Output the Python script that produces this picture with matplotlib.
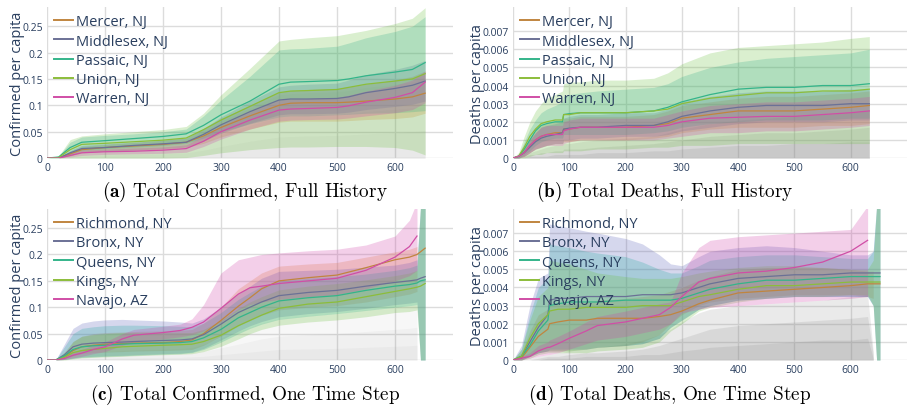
import numpy as np
import matplotlib
matplotlib.use("Agg")
import matplotlib.pyplot as plt

# ---------------- data ----------------
# (a) confirmed, full history
a_days = [0, 20, 40, 60, 100, 150, 200, 240, 270, 300, 350, 400, 420, 450, 500, 520, 550, 600, 630, 652]
a_names = ["Mercer, NJ", "Middlesex, NJ", "Passaic, NJ", "Union, NJ", "Warren, NJ"]
a_mercer = [0, 0, 0.008, 0.016, 0.020, 0.023, 0.026, 0.030, 0.042, 0.058, 0.080, 0.100, 0.104, 0.105, 0.105, 0.106, 0.108, 0.112, 0.116, 0.123]
a_middlesex = [0, 0, 0.010, 0.018, 0.020, 0.024, 0.027, 0.030, 0.045, 0.063, 0.088, 0.110, 0.112, 0.112, 0.113, 0.116, 0.124, 0.132, 0.138, 0.146]
a_passaic = [0, 0.002, 0.020, 0.030, 0.033, 0.037, 0.041, 0.046, 0.062, 0.082, 0.108, 0.140, 0.144, 0.145, 0.147, 0.150, 0.156, 0.163, 0.168, 0.181]
a_union = [0, 0.001, 0.016, 0.026, 0.028, 0.031, 0.034, 0.038, 0.054, 0.072, 0.098, 0.124, 0.127, 0.128, 0.130, 0.134, 0.140, 0.146, 0.150, 0.160]
a_warren = [0, 0, 0.005, 0.010, 0.012, 0.013, 0.015, 0.018, 0.032, 0.050, 0.072, 0.091, 0.093, 0.094, 0.096, 0.099, 0.106, 0.115, 0.124, 0.144]
# bands (hi, lo)
a_mercer_hi = [0, 0, 0.012, 0.022, 0.026, 0.030, 0.034, 0.038, 0.055, 0.075, 0.100, 0.125, 0.128, 0.130, 0.132, 0.135, 0.140, 0.148, 0.155, 0.165]
a_mercer_lo = [0, 0, 0.004, 0.010, 0.013, 0.015, 0.017, 0.020, 0.028, 0.040, 0.055, 0.068, 0.070, 0.070, 0.070, 0.071, 0.073, 0.075, 0.078, 0.085]
a_middlesex_hi = [0, 0, 0.014, 0.024, 0.027, 0.030, 0.034, 0.038, 0.056, 0.078, 0.108, 0.135, 0.138, 0.140, 0.142, 0.148, 0.158, 0.168, 0.176, 0.185]
a_middlesex_lo = [0, 0, 0.005, 0.011, 0.013, 0.015, 0.018, 0.021, 0.032, 0.047, 0.066, 0.082, 0.084, 0.084, 0.085, 0.087, 0.092, 0.098, 0.102, 0.108]
a_passaic_hi = [0, 0.003, 0.030, 0.040, 0.043, 0.046, 0.050, 0.055, 0.080, 0.110, 0.155, 0.205, 0.207, 0.208, 0.212, 0.218, 0.228, 0.240, 0.250, 0.268]
a_passaic_lo = [0, 0, 0.008, 0.015, 0.018, 0.021, 0.024, 0.028, 0.038, 0.050, 0.065, 0.078, 0.080, 0.080, 0.082, 0.083, 0.085, 0.086, 0.088, 0.090]
a_union_hi = [0, 0.004, 0.035, 0.042, 0.046, 0.050, 0.054, 0.060, 0.085, 0.120, 0.170, 0.222, 0.225, 0.228, 0.232, 0.236, 0.242, 0.255, 0.265, 0.285]
a_union_lo = [0, 0, 0, 0, 0, 0, 0, 0.001, 0.005, 0.010, 0.016, 0.020, 0.021, 0.021, 0.022, 0.022, 0.022, 0.020, 0.015, 0.006]
a_warren_hi = [0, 0, 0.008, 0.015, 0.017, 0.019, 0.021, 0.025, 0.042, 0.062, 0.088, 0.110, 0.112, 0.113, 0.115, 0.119, 0.127, 0.138, 0.148, 0.165]
a_warren_lo = [0, 0, 0.002, 0.005, 0.007, 0.008, 0.009, 0.011, 0.022, 0.036, 0.055, 0.070, 0.072, 0.073, 0.074, 0.076, 0.080, 0.086, 0.092, 0.105]
# other counties (grey), upper edges of the grey mass
a_gray1 = [0, 0, 0.010, 0.018, 0.022, 0.026, 0.030, 0.034, 0.050, 0.070, 0.095, 0.120, 0.122, 0.124, 0.126, 0.128, 0.134, 0.140, 0.145, 0.150]
a_gray2 = [0, 0, 0.005, 0.010, 0.013, 0.015, 0.017, 0.020, 0.030, 0.045, 0.062, 0.078, 0.080, 0.081, 0.082, 0.084, 0.088, 0.092, 0.095, 0.098]
a_gray3 = [0, 0, 0.002, 0.004, 0.006, 0.007, 0.008, 0.010, 0.015, 0.022, 0.032, 0.040, 0.041, 0.042, 0.043, 0.044, 0.046, 0.048, 0.050, 0.052]

# (b) deaths, full history
b_days = [0, 10, 20, 30, 40, 50, 60, 75, 88, 90, 100, 120, 150, 200, 250, 275, 300, 350, 400, 450, 500, 550, 600, 633]
b_mercer = [0, 0.0001, 0.0003, 0.0007, 0.0010, 0.0012, 0.0013, 0.0014, 0.0014, 0.0016, 0.0016, 0.0017, 0.0017, 0.0017, 0.0018, 0.0019, 0.0022, 0.0024, 0.0026, 0.0026, 0.0026, 0.0027, 0.0028, 0.0029]
b_middlesex = [0, 0.0001, 0.0003, 0.0006, 0.0009, 0.0011, 0.0012, 0.0013, 0.0014, 0.0016, 0.00165, 0.0017, 0.0017, 0.0018, 0.0018, 0.0020, 0.0023, 0.0026, 0.0028, 0.0029, 0.0029, 0.0029, 0.0030, 0.0030]
b_passaic = [0, 0.0001, 0.0005, 0.0010, 0.0015, 0.0018, 0.0019, 0.0020, 0.0020, 0.0024, 0.00245, 0.0025, 0.0025, 0.0025, 0.0026, 0.0028, 0.0031, 0.0035, 0.0038, 0.0039, 0.0039, 0.0040, 0.0040, 0.0041]
b_union = [0, 0.0001, 0.0006, 0.0012, 0.0016, 0.0019, 0.0020, 0.0021, 0.0021, 0.0024, 0.0024, 0.0025, 0.0025, 0.0025, 0.0026, 0.0027, 0.0030, 0.0033, 0.00345, 0.0036, 0.0036, 0.0037, 0.0037, 0.0038]
b_warren = [0, 0.0001, 0.0003, 0.0007, 0.0010, 0.0012, 0.0013, 0.0013, 0.0013, 0.0015, 0.0016, 0.0017, 0.0017, 0.0017, 0.0017, 0.0018, 0.0020, 0.0022, 0.00225, 0.0023, 0.0023, 0.0024, 0.0025, 0.0026]
b_mercer_hi = [0, 0.0002, 0.0006, 0.0011, 0.0015, 0.0018, 0.0019, 0.0020, 0.0020, 0.0022, 0.0022, 0.0023, 0.0023, 0.0023, 0.0024, 0.0026, 0.0029, 0.0031, 0.0033, 0.0034, 0.0034, 0.0035, 0.0036, 0.0037]
b_mercer_lo = [0, 0, 0.0001, 0.0003, 0.0005, 0.0006, 0.0007, 0.0008, 0.0008, 0.0009, 0.0009, 0.0010, 0.0010, 0.0010, 0.0011, 0.0012, 0.0014, 0.0016, 0.0017, 0.0017, 0.0017, 0.0018, 0.0018, 0.0019]
b_middlesex_hi = [0, 0.0002, 0.0006, 0.0010, 0.0014, 0.0017, 0.0018, 0.0019, 0.0020, 0.0022, 0.0023, 0.0024, 0.0024, 0.0025, 0.0025, 0.0027, 0.0031, 0.0034, 0.0036, 0.0037, 0.0037, 0.0037, 0.0038, 0.0038]
b_middlesex_lo = [0, 0, 0.0001, 0.0003, 0.0005, 0.0006, 0.0007, 0.0008, 0.0008, 0.0010, 0.0010, 0.0011, 0.0011, 0.0012, 0.0012, 0.0013, 0.0015, 0.0017, 0.0019, 0.0020, 0.0020, 0.0020, 0.0021, 0.0021]
b_passaic_hi = [0, 0.0002, 0.0009, 0.0016, 0.0021, 0.0025, 0.0027, 0.0029, 0.0031, 0.0034, 0.0035, 0.0036, 0.0037, 0.0038, 0.0039, 0.0041, 0.0045, 0.0050, 0.0053, 0.0055, 0.0056, 0.0057, 0.0058, 0.0060]
b_passaic_lo = [0, 0, 0.0002, 0.0004, 0.0007, 0.0009, 0.0010, 0.0011, 0.0011, 0.0013, 0.0013, 0.0013, 0.0013, 0.0013, 0.0014, 0.0015, 0.0017, 0.0019, 0.0020, 0.0021, 0.0021, 0.0021, 0.0022, 0.0022]
b_union_hi = [0, 0.0003, 0.0012, 0.0020, 0.0026, 0.0030, 0.0033, 0.0035, 0.0037, 0.0041, 0.0042, 0.0042, 0.0043, 0.0043, 0.0044, 0.0047, 0.0052, 0.0058, 0.0061, 0.0062, 0.0063, 0.0064, 0.0066, 0.0067]
b_union_lo = [0, 0, 0, 0.0001, 0.0002, 0.0002, 0.0003, 0.0003, 0.0003, 0.0004, 0.0004, 0.0004, 0.0005, 0.0005, 0.0006, 0.0006, 0.0007, 0.0007, 0.0008, 0.0008, 0.0008, 0.0008, 0.0008, 0.0008]
b_warren_hi = [0, 0.0002, 0.0005, 0.0010, 0.0014, 0.0017, 0.0018, 0.0018, 0.0018, 0.0020, 0.0021, 0.0022, 0.0022, 0.0022, 0.0022, 0.0024, 0.0026, 0.0029, 0.0030, 0.0031, 0.0031, 0.0032, 0.0033, 0.0034]
b_warren_lo = [0, 0, 0.0001, 0.0003, 0.0005, 0.0006, 0.0007, 0.0007, 0.0007, 0.0008, 0.0009, 0.0010, 0.0010, 0.0010, 0.0010, 0.0011, 0.0012, 0.0014, 0.0014, 0.0015, 0.0015, 0.0016, 0.0017, 0.0018]
b_gray1 = [0, 0.0001, 0.0002, 0.0003, 0.0004, 0.0005, 0.0006, 0.0007, 0.0007, 0.0008, 0.0008, 0.0009, 0.0010, 0.0011, 0.0012, 0.0014, 0.0016, 0.0019, 0.0021, 0.0022, 0.0023, 0.0024, 0.0025, 0.0026]
b_gray2 = [0, 0, 0.0001, 0.0002, 0.0002, 0.0003, 0.0003, 0.0004, 0.0004, 0.0005, 0.0005, 0.0005, 0.0006, 0.0007, 0.0008, 0.0009, 0.0010, 0.0012, 0.0013, 0.0014, 0.0014, 0.0015, 0.0016, 0.0017]
b_gray3 = [0, 0, 0, 0.0001, 0.0001, 0.0001, 0.0001, 0.0002, 0.0002, 0.0002, 0.0002, 0.0002, 0.0003, 0.0003, 0.0004, 0.0004, 0.0005, 0.0006, 0.0007, 0.0007, 0.0008, 0.0008, 0.0009, 0.0009]

# (c) confirmed, one time step
c_days = [0, 15, 30, 45, 60, 80, 100, 130, 150, 200, 230, 250, 270, 300, 330, 350, 370, 400, 450, 500, 550, 600, 625, 638, 644, 652]
c_names = ["Richmond, NY", "Bronx, NY", "Queens, NY", "Kings, NY", "Navajo, AZ"]
nan = np.nan
c_richmond = [0, 0, 0.006, 0.018, 0.025, 0.028, 0.030, 0.031, 0.032, 0.033, 0.035, 0.038, 0.050, 0.075, 0.102, 0.118, 0.135, 0.150, 0.156, 0.161, 0.175, 0.190, 0.195, 0.200, 0.205, 0.212]
c_bronx = [0, 0, 0.010, 0.025, 0.030, 0.032, 0.033, 0.034, 0.035, 0.037, 0.038, 0.040, 0.048, 0.068, 0.090, 0.100, 0.110, 0.122, 0.128, 0.132, 0.140, 0.147, 0.150, 0.152, 0.155, 0.158]
c_queens = [0, 0, 0.008, 0.020, 0.025, 0.027, 0.028, 0.030, 0.031, 0.032, 0.033, 0.035, 0.042, 0.058, 0.080, 0.090, 0.100, 0.112, 0.118, 0.122, 0.132, 0.140, 0.143, 0.146, 0.150, 0.152]
c_kings = [0, 0, 0.005, 0.014, 0.018, 0.020, 0.022, 0.025, 0.026, 0.028, 0.029, 0.030, 0.035, 0.047, 0.065, 0.075, 0.085, 0.098, 0.106, 0.110, 0.120, 0.130, 0.135, 0.138, 0.140, 0.145]
c_navajo = [0, 0, 0.003, 0.009, 0.013, 0.020, 0.025, 0.040, 0.047, 0.052, 0.056, 0.062, 0.072, 0.098, 0.125, 0.137, 0.140, 0.145, 0.150, 0.155, 0.170, 0.195, 0.215, 0.235, nan, nan]
c_richmond_hi = [0, 0, 0.012, 0.035, 0.045, 0.050, 0.052, 0.053, 0.054, 0.055, 0.056, 0.058, 0.070, 0.100, 0.135, 0.150, 0.165, 0.178, 0.182, 0.185, 0.195, 0.205, 0.210, 0.215, nan, nan]
c_richmond_lo = [0, 0, 0.002, 0.008, 0.012, 0.014, 0.015, 0.016, 0.017, 0.018, 0.019, 0.020, 0.028, 0.045, 0.065, 0.075, 0.085, 0.095, 0.100, 0.103, 0.110, 0.120, 0.125, 0.130, nan, nan]
c_bronx_hi = [0, 0, 0.030, 0.060, 0.070, 0.074, 0.076, 0.077, 0.076, 0.074, 0.072, 0.070, 0.078, 0.100, 0.125, 0.140, 0.155, 0.168, 0.170, 0.172, 0.176, 0.180, 0.185, 0.190, 0.290, 0.290]
c_bronx_lo = [0, 0, 0.001, 0.004, 0.006, 0.007, 0.008, 0.009, 0.010, 0.012, 0.013, 0.015, 0.022, 0.038, 0.055, 0.065, 0.073, 0.082, 0.088, 0.092, 0.098, 0.105, 0.108, 0.110, 0, 0]
c_queens_hi = [0, 0, 0.025, 0.050, 0.060, 0.063, 0.065, 0.066, 0.066, 0.065, 0.064, 0.063, 0.070, 0.090, 0.115, 0.128, 0.140, 0.150, 0.155, 0.158, 0.163, 0.170, 0.175, 0.180, 0.290, 0.290]
c_queens_lo = [0, 0, 0.001, 0.003, 0.005, 0.006, 0.007, 0.008, 0.009, 0.011, 0.012, 0.014, 0.020, 0.034, 0.050, 0.060, 0.068, 0.077, 0.083, 0.088, 0.094, 0.100, 0.103, 0.105, 0, 0]
c_kings_hi = [0, 0, 0.015, 0.035, 0.045, 0.048, 0.050, 0.052, 0.052, 0.052, 0.052, 0.052, 0.058, 0.075, 0.098, 0.110, 0.120, 0.133, 0.140, 0.145, 0.152, 0.160, 0.165, 0.170, 0.290, 0.290]
c_kings_lo = [0, 0, 0, 0.002, 0.004, 0.005, 0.006, 0.007, 0.008, 0.010, 0.011, 0.012, 0.016, 0.026, 0.040, 0.050, 0.058, 0.066, 0.072, 0.076, 0.082, 0.090, 0.092, 0.095, 0, 0]
c_navajo_hi = [0, 0, 0.006, 0.015, 0.020, 0.028, 0.034, 0.050, 0.058, 0.064, 0.068, 0.078, 0.105, 0.165, 0.190, 0.195, 0.200, 0.203, 0.207, 0.210, 0.218, 0.235, 0.265, 0.300, nan, nan]
c_navajo_lo = [0, 0, 0.001, 0.004, 0.007, 0.012, 0.016, 0.028, 0.034, 0.040, 0.044, 0.048, 0.055, 0.072, 0.095, 0.105, 0.110, 0.115, 0.120, 0.124, 0.135, 0.150, 0.160, 0.170, nan, nan]
c_gray1 = [0, 0, 0.003, 0.008, 0.012, 0.014, 0.016, 0.018, 0.019, 0.021, 0.022, 0.024, 0.030, 0.042, 0.055, 0.062, 0.070, 0.078, 0.084, 0.088, 0.095, 0.100, 0.103, 0.105, nan, nan]
c_gray2 = [0, 0, 0.001, 0.004, 0.006, 0.007, 0.008, 0.009, 0.010, 0.011, 0.012, 0.013, 0.016, 0.023, 0.030, 0.035, 0.040, 0.045, 0.048, 0.050, 0.054, 0.058, 0.060, 0.062, nan, nan]
c_gray3 = [0, 0, 0, 0.001, 0.002, 0.003, 0.003, 0.004, 0.004, 0.005, 0.005, 0.006, 0.007, 0.010, 0.013, 0.015, 0.017, 0.020, 0.021, 0.022, 0.024, 0.026, 0.027, 0.028, nan, nan]

# (d) deaths, one time step
d_days = [0, 15, 30, 45, 62, 65, 80, 100, 130, 150, 200, 230, 260, 280, 300, 330, 350, 400, 450, 500, 550, 600, 630, 640, 646, 652]
d_richmond = [0, 0.0001, 0.0007, 0.0013, 0.0017, 0.0020, 0.0021, 0.0022, 0.0022, 0.0023, 0.0023, 0.0023, 0.0024, 0.0025, 0.0027, 0.0031, 0.0033, 0.0037, 0.0038, 0.0039, 0.0040, 0.0041, 0.0042, 0.0042, 0.0042, 0.0042]
d_bronx = [0, 0.0002, 0.0010, 0.0018, 0.0025, 0.0033, 0.0034, 0.0034, 0.0035, 0.0035, 0.0035, 0.0036, 0.0036, 0.0036, 0.0037, 0.0040, 0.0042, 0.0045, 0.0046, 0.0047, 0.0047, 0.0048, 0.0048, 0.0048, 0.0048, 0.0048]
d_queens = [0, 0.0002, 0.0008, 0.0016, 0.0022, 0.0030, 0.0031, 0.0032, 0.0032, 0.0032, 0.0033, 0.0033, 0.0033, 0.0033, 0.0034, 0.0037, 0.0039, 0.0042, 0.0044, 0.0044, 0.0045, 0.0046, 0.0046, 0.0046, 0.0046, 0.0046]
d_kings = [0, 0.0002, 0.0012, 0.0020, 0.0025, 0.0027, 0.0028, 0.0028, 0.0029, 0.0029, 0.0029, 0.0030, 0.0030, 0.0030, 0.0032, 0.0035, 0.0036, 0.0039, 0.0041, 0.0041, 0.0042, 0.0043, 0.0043, 0.0043, 0.0043, 0.0043]
d_navajo = [0, 0.0001, 0.0002, 0.0005, 0.0007, 0.0007, 0.0009, 0.0012, 0.0016, 0.0019, 0.0021, 0.0023, 0.0025, 0.0029, 0.0035, 0.0043, 0.0045, 0.0048, 0.0049, 0.0051, 0.0054, 0.0060, 0.0066, nan, nan, nan]
d_richmond_hi = [0, 0.0004, 0.0016, 0.0025, 0.0028, 0.0030, 0.0031, 0.0031, 0.0032, 0.0033, 0.0034, 0.0035, 0.0036, 0.0038, 0.0040, 0.0044, 0.0046, 0.0050, 0.0051, 0.0051, 0.0051, 0.0050, 0.0049, 0.0049, nan, nan]
d_richmond_lo = [0, 0, 0.0002, 0.0004, 0.0005, 0.0005, 0.0005, 0.0005, 0.0006, 0.0007, 0.0008, 0.0010, 0.0014, 0.0020, 0.0025, 0.0030, 0.0032, 0.0034, 0.0035, 0.0036, 0.0036, 0.0036, 0.0035, 0.0034, nan, nan]
d_bronx_hi = [0, 0.0008, 0.0030, 0.0045, 0.0048, 0.0075, 0.0074, 0.0073, 0.0071, 0.0070, 0.0067, 0.0064, 0.0058, 0.0053, 0.0052, 0.0057, 0.0060, 0.0062, 0.0063, 0.0062, 0.0060, 0.0058, 0.0058, 0.0060, 0.0085, 0.0085]
d_bronx_lo = [0, 0, 0.0002, 0.0004, 0.0005, 0.0006, 0.0006, 0.0006, 0.0006, 0.0007, 0.0008, 0.0009, 0.0012, 0.0018, 0.0022, 0.0028, 0.0030, 0.0033, 0.0034, 0.0035, 0.0035, 0.0035, 0.0035, 0.0030, 0, 0]
d_queens_hi = [0, 0.0006, 0.0025, 0.0040, 0.0045, 0.0064, 0.0063, 0.0062, 0.0060, 0.0059, 0.0057, 0.0054, 0.0050, 0.0048, 0.0048, 0.0052, 0.0055, 0.0057, 0.0058, 0.0058, 0.0057, 0.0056, 0.0056, 0.0060, 0.0085, 0.0085]
d_queens_lo = [0, 0, 0.0002, 0.0004, 0.0005, 0.0005, 0.0005, 0.0005, 0.0006, 0.0007, 0.0008, 0.0009, 0.0012, 0.0018, 0.0022, 0.0028, 0.0030, 0.0033, 0.0034, 0.0035, 0.0035, 0.0035, 0.0035, 0.0030, 0, 0]
d_kings_hi = [0, 0.0006, 0.0022, 0.0035, 0.0040, 0.0055, 0.0054, 0.0053, 0.0050, 0.0048, 0.0046, 0.0045, 0.0045, 0.0045, 0.0046, 0.0048, 0.0049, 0.0051, 0.0052, 0.0052, 0.0051, 0.0050, 0.0050, 0.0055, 0.0085, 0.0085]
d_kings_lo = [0, 0, 0.0001, 0.0003, 0.0004, 0.0004, 0.0004, 0.0004, 0.0004, 0.0005, 0.0006, 0.0007, 0.0010, 0.0016, 0.0020, 0.0027, 0.0029, 0.0032, 0.0034, 0.0035, 0.0035, 0.0036, 0.0036, 0.0030, 0, 0]
d_navajo_hi = [0, 0.0002, 0.0004, 0.0008, 0.0010, 0.0011, 0.0013, 0.0016, 0.0021, 0.0024, 0.0027, 0.0029, 0.0031, 0.0032, 0.0048, 0.0062, 0.0066, 0.0068, 0.0069, 0.0070, 0.0071, 0.0072, 0.0085, nan, nan, nan]
d_navajo_lo = [0, 0, 0.0001, 0.0002, 0.0003, 0.0003, 0.0004, 0.0006, 0.0009, 0.0011, 0.0013, 0.0015, 0.0017, 0.0020, 0.0026, 0.0028, 0.0029, 0.0030, 0.0031, 0.0032, 0.0033, 0.0034, 0.0035, nan, nan, nan]
d_gray1 = [0, 0, 0.0001, 0.0002, 0.0003, 0.0003, 0.0004, 0.0005, 0.0006, 0.0007, 0.0009, 0.0011, 0.0014, 0.0017, 0.0021, 0.0026, 0.0028, 0.0030, 0.0031, 0.0032, 0.0033, 0.0035, 0.0036, 0.0005, nan, nan]
d_gray2 = [0, 0, 0, 0.0001, 0.0002, 0.0002, 0.0002, 0.0003, 0.0004, 0.0004, 0.0005, 0.0006, 0.0008, 0.0010, 0.0012, 0.0015, 0.0017, 0.0019, 0.0020, 0.0021, 0.0022, 0.0023, 0.0024, 0.0003, nan, nan]
d_gray3 = [0, 0, 0, 0, 0.0001, 0.0001, 0.0001, 0.0001, 0.0002, 0.0002, 0.0002, 0.0003, 0.0003, 0.0004, 0.0005, 0.0006, 0.0007, 0.0008, 0.0009, 0.0010, 0.0011, 0.0011, 0.0012, 0.0001, nan, nan]

colors = ["#c0853f", "#6b7196", "#34b48a", "#8cbd3a", "#d04ea6"]  # lines
band_colors = ["#e08a30", "#5a60b8", "#20a8a0", "#6cc040", "#d040a8"]  # shaded ranges
text_col = "#2a3f5f"

plt.rcParams["font.family"] = ["Open Sans", "DejaVu Sans"]
plt.rcParams["mathtext.fontset"] = "cm"

fig = plt.figure(figsize=(9.07, 4.10), dpi=100)


def panel(rect, days, names, lines, bands, grays, gray_alpha, ymax, yticks, ylabels, ylab, labx):
    ax = fig.add_axes(rect)
    for g in grays:
        ax.fill_between(days, 0, g, color="#808080", alpha=gray_alpha, lw=0)
    for (hi, lo), c in zip(bands, band_colors):
        ax.fill_between(days, lo, hi, color=c, alpha=0.25, lw=0)
    for y, c, n in zip(lines, colors, names):
        ax.plot(days, y, color=c, lw=0.9, label=n)
    ax.set_xlim(0, 700)
    ax.set_ylim(0, ymax)
    ax.set_xticks([0, 100, 200, 300, 400, 500, 600])
    ax.set_yticks(yticks)
    ax.set_yticklabels(ylabels)
    ax.grid(True, color="#dcdcdc", lw=1)
    ax.set_axisbelow(True)
    for s in ax.spines.values():
        s.set_visible(False)
    ax.tick_params(length=0, labelsize=7.5, labelcolor=text_col, pad=3)
    ax.set_ylabel(ylab, fontsize=10.5, color=text_col)
    ax.yaxis.set_label_coords(labx, 0.5)
    leg = ax.legend(loc="upper left", bbox_to_anchor=(-0.005, 1.01), frameon=False,
                    fontsize=10.5, labelcolor=text_col, handlelength=1.3,
                    handletextpad=0.25, labelspacing=0.28, borderaxespad=0.2)
    for h in leg.get_lines():
        h.set_linewidth(1.4)
    return ax


conf_ticks = [0, 0.05, 0.1, 0.15, 0.2, 0.25]
conf_labels = ["0", "0.05", "0.1", "0.15", "0.2", "0.25"]
death_ticks = [0, 0.001, 0.002, 0.003, 0.004, 0.005, 0.006, 0.007]
death_labels = ["0", "0.001", "0.002", "0.003", "0.004", "0.005", "0.006", "0.007"]

panel([0.0518, 0.612, 0.4476, 0.368], a_days, a_names,
      [a_mercer, a_middlesex, a_passaic, a_union, a_warren],
      [(a_mercer_hi, a_mercer_lo), (a_middlesex_hi, a_middlesex_lo), (a_passaic_hi, a_passaic_lo),
       (a_union_hi, a_union_lo), (a_warren_hi, a_warren_lo)],
      [a_gray1, a_gray2, a_gray3], 0.06, 0.286, conf_ticks, conf_labels,
      "Confirmed per capita", -0.054)

panel([0.5656, 0.612, 0.4344, 0.368], b_days, a_names,
      [b_mercer, b_middlesex, b_passaic, b_union, b_warren],
      [(b_mercer_hi, b_mercer_lo), (b_middlesex_hi, b_middlesex_lo), (b_passaic_hi, b_passaic_lo),
       (b_union_hi, b_union_lo), (b_warren_hi, b_warren_lo)],
      [b_gray1, b_gray2, b_gray3], 0.16, 0.00832, death_ticks, death_labels,
      "Deaths per capita", -0.071)

panel([0.0518, 0.1195, 0.4476, 0.368], c_days, c_names,
      [c_richmond, c_bronx, c_queens, c_kings, c_navajo],
      [(c_richmond_hi, c_richmond_lo), (c_bronx_hi, c_bronx_lo), (c_queens_hi, c_queens_lo),
       (c_kings_hi, c_kings_lo), (c_navajo_hi, c_navajo_lo)],
      [c_gray1, c_gray2, c_gray3], 0.06, 0.286, conf_ticks, conf_labels,
      "Confirmed per capita", -0.054)

panel([0.5656, 0.1195, 0.4344, 0.368], d_days, c_names,
      [d_richmond, d_bronx, d_queens, d_kings, d_navajo],
      [(d_richmond_hi, d_richmond_lo), (d_bronx_hi, d_bronx_lo), (d_queens_hi, d_queens_lo),
       (d_kings_hi, d_kings_lo), (d_navajo_hi, d_navajo_lo)],
      [d_gray1, d_gray2, d_gray3], 0.16, 0.00832, death_ticks, death_labels,
      "Deaths per capita", -0.071)

# captions
caps = [(245, 192, "a", "Total Confirmed, Full History"),
        (665, 192, "b", "Total Deaths, Full History"),
        (245, 395, "c", "Total Confirmed, One Time Step"),
        (670, 395, "d", "Total Deaths, One Time Step")]
for px, py, k, t in caps:
    fig.text(px / 907, 1 - py / 410, r"$\mathbf{(" + k + ")}$ " + t,
             ha="center", va="center", fontsize=13.8, family="cmr10", color="black")

fig.savefig("out.png", dpi=100)
